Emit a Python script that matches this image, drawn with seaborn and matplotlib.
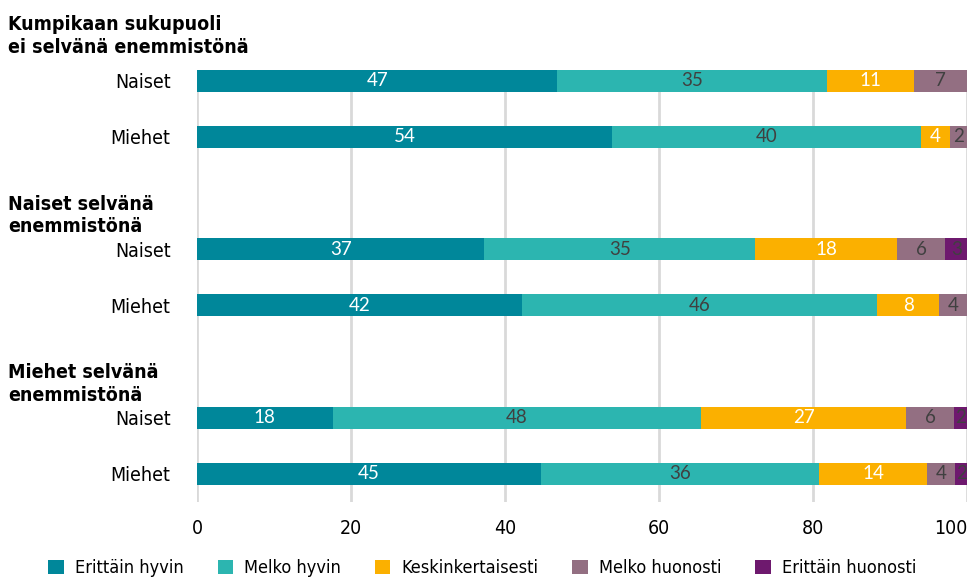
import numpy as np
import pandas as pd
import matplotlib
matplotlib.use("Agg")
import matplotlib.pyplot as plt
import matplotlib.transforms as mtransforms
from matplotlib.patches import Patch
import seaborn as sns

# data (shares, %)
headers = [
    "Kumpikaan sukupuoli\nei selvänä enemmistönä",
    "Naiset selvänä\nenemmistönä",
    "Miehet selvänä\nenemmistönä",
]
rows = ["Naiset", "Miehet"]
series = ["Erittäin hyvin", "Melko hyvin", "Keskinkertaisesti", "Melko huonosti", "Erittäin huonosti"]
erittain_hyvin = [46.8, 53.9, 37.3, 42.2, 17.6, 44.7]
melko_hyvin = [35.0, 40.1, 35.2, 46.1, 47.9, 36.1]
keskinkertaisesti = [11.3, 3.8, 18.4, 8.1, 26.6, 14.0]
melko_huonosti = [6.9, 2.2, 6.3, 3.6, 6.2, 3.7]
erittain_huonosti = [0.0, 0.0, 2.8, 0.0, 1.7, 1.5]
xticks = [0, 20, 40, 60, 80, 100]

colors = ["#00879a", "#2cb5b0", "#fbb000", "#936f82", "#6e196e"]
label_colors = ["white", "#404040", "white", "#404040", "#404040"]

plt.rcParams["font.family"] = ["DejaVu Sans"]
plt.rcParams["font.stretch"] = "condensed"

values = np.array([erittain_hyvin, melko_hyvin, keskinkertaisesti,
                   melko_huonosti, erittain_huonosti]).T

# one slot per bar, plus an empty slot before groups 2 and 3 for the headings
keys = []
order = []
for g in range(len(headers)):
    if g > 0:
        order.append(f"head{g}")
    for r in rows:
        keys.append(f"{g}_{r}")
        order.append(f"{g}_{r}")

fig = plt.figure(figsize=(9.76, 5.82), dpi=100)
ax = fig.add_axes([197 / 976, 80 / 582, 770 / 976, 432 / 582])

lefts = np.zeros(len(keys))
for i, name in enumerate(series):
    df = pd.DataFrame({"group": keys, "value": values[:, i]})
    sns.barplot(data=df, x="value", y="group", order=order, orient="h",
                color=colors[i], width=0.39, errorbar=None, left=lefts,
                saturation=1, linewidth=0, ax=ax)
    for k, key in enumerate(keys):
        v = values[k, i]
        if v > 0:
            ax.text(lefts[k] + v / 2, order.index(key), f"{round(v)}",
                    ha="center", va="center", fontsize=13.5,
                    color=label_colors[i], family="Lato", stretch="normal")
    lefts = lefts + values[:, i]

ax.set_xlim(0, 100)
ax.set_ylim(len(order) - 0.5, -0.19)
ax.set_xticks(xticks)
ax.set_xticklabels([str(t) for t in xticks], fontsize=14)
ax.get_xticklabels()[-1].set_horizontalalignment("right")
ax.set_yticks([order.index(k) for k in keys])
ax.set_yticklabels([k.split("_")[1] for k in keys], fontsize=14)
ax.tick_params(length=0, pad=19, axis="y")
ax.tick_params(length=0, pad=12, axis="x")
ax.set_xlabel("")
ax.set_ylabel("")
for s in ax.spines.values():
    s.set_visible(False)
ax.xaxis.grid(True, color="#d9d9d9", linewidth=2)
ax.set_axisbelow(True)

# group headings
trans = mtransforms.blended_transform_factory(fig.transFigure, ax.transData)
for g, h in enumerate(headers):
    first = order.index(f"{g}_{rows[0]}")
    off = 0.5 if g == 0 else 0.3
    ax.text(8 / 976, first - off, h, transform=trans, ha="left", va="baseline",
            fontsize=14, fontweight="bold", linespacing=1.25)

handles = [Patch(facecolor=c, edgecolor="none") for c in colors]
fig.legend(handles, series, loc="center", bbox_to_anchor=(0.494, 14 / 582), ncol=5,
           frameon=False, fontsize=13, handlelength=0.85, handleheight=0.85,
           handletextpad=0.6, columnspacing=1.9)

fig.savefig("out.png", dpi=100)
